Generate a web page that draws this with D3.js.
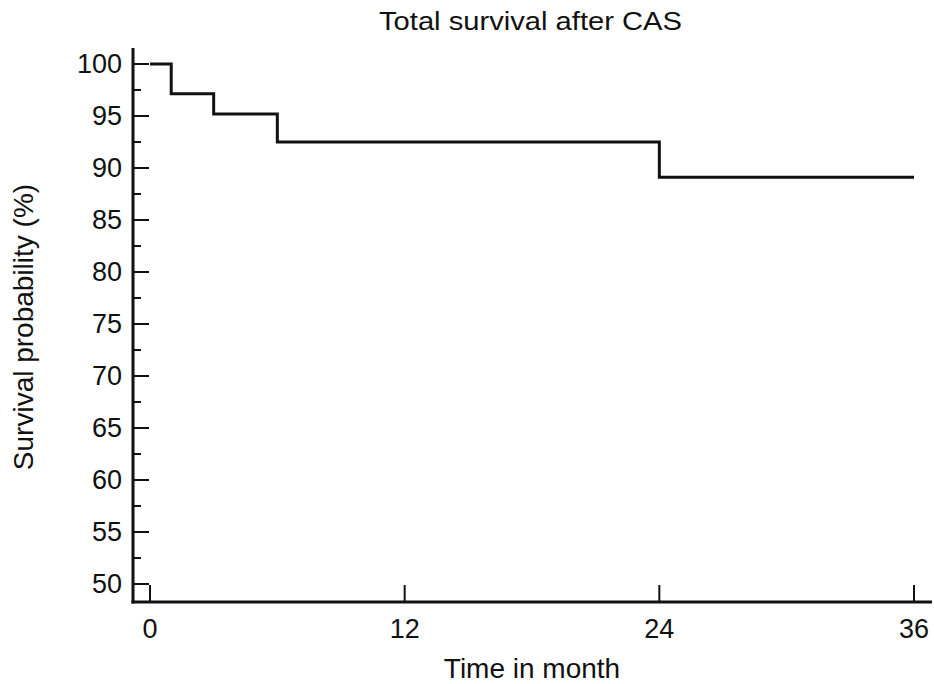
<!DOCTYPE html>
<html lang="en">
  <head>
    <style>
      body { margin: 0; background: #fff; }
      text { font-family: "Liberation Sans", Arial, sans-serif; fill: #111; }
    </style>
  </head>
  <body>
    <svg id="container" width="934" height="684"></svg>
  </body>
  <script src="https://d3js.org/d3.v7.min.js"></script>
  <script>
// survival steps (time in month, survival %)
let times = [0, 1, 3, 6, 24, 36]
let survival = [100, 97.15, 95.2, 92.5, 89.1, 89.1]
let xTicks = [0, 12, 24, 36]
let yTicks = [50, 55, 60, 65, 70, 75, 80, 85, 90, 95, 100]
let yMinor = [52.5, 57.5, 62.5, 67.5, 72.5, 77.5, 82.5, 87.5, 92.5, 97.5]

let svg = d3.select("#container")

let x = d3.scaleLinear().domain([0, 36]).range([150, 914])
let y = d3.scaleLinear().domain([50, 100]).range([584, 64])

let axisLeft = 133
let axisBottom = 602

// axes lines
svg.append("line")
    .attr("x1", axisLeft).attr("x2", axisLeft)
    .attr("y1", 48).attr("y2", axisBottom + 1.5)
    .attr("stroke", "#111").attr("stroke-width", 3)
svg.append("line")
    .attr("x1", axisLeft - 1.5).attr("x2", 932)
    .attr("y1", axisBottom).attr("y2", axisBottom)
    .attr("stroke", "#111").attr("stroke-width", 3)

// y ticks
svg.append("g").selectAll("line.major")
    .data(yTicks).enter().append("line")
    .attr("x1", axisLeft).attr("x2", axisLeft + 16)
    .attr("y1", d => y(d)).attr("y2", d => y(d))
    .attr("stroke", "#111").attr("stroke-width", 2)
svg.append("g").selectAll("line.minor")
    .data(yMinor).enter().append("line")
    .attr("x1", axisLeft).attr("x2", axisLeft + 8)
    .attr("y1", d => y(d)).attr("y2", d => y(d))
    .attr("stroke", "#111").attr("stroke-width", 2)
svg.append("g").selectAll("text")
    .data(yTicks).enter().append("text")
    .attr("x", 122).attr("y", d => y(d) + 9)
    .attr("text-anchor", "end")
    .attr("font-size", 27)
    .text(d => d)

// x ticks
svg.append("g").selectAll("line")
    .data(xTicks).enter().append("line")
    .attr("x1", d => x(d)).attr("x2", d => x(d))
    .attr("y1", axisBottom).attr("y2", axisBottom - 17)
    .attr("stroke", "#111").attr("stroke-width", 2)
svg.append("g").selectAll("text")
    .data(xTicks).enter().append("text")
    .attr("x", d => x(d)).attr("y", 638)
    .attr("text-anchor", "middle")
    .attr("font-size", 27)
    .text(d => d)

// survival curve
let pts = times.map((t, i) => [t, survival[i]])
let line = d3.line()
    .x(d => x(d[0]))
    .y(d => y(d[1]))
    .curve(d3.curveStepAfter)
svg.append("path")
    .datum(pts)
    .attr("d", line)
    .attr("fill", "none")
    .attr("stroke", "#111")
    .attr("stroke-width", 3)

// titles
svg.append("text")
    .attr("x", 379).attr("y", 30)
    .attr("font-size", 26)
    .attr("textLength", 303)
    .attr("lengthAdjust", "spacingAndGlyphs")
    .text("Total survival after CAS")
svg.append("text")
    .attr("x", 532).attr("y", 678)
    .attr("text-anchor", "middle")
    .attr("font-size", 28)
    .text("Time in month")
svg.append("text")
    .attr("transform", "translate(33,327) rotate(-90)")
    .attr("text-anchor", "middle")
    .attr("font-size", 28)
    .text("Survival probability (%)")
  </script>
</html>
